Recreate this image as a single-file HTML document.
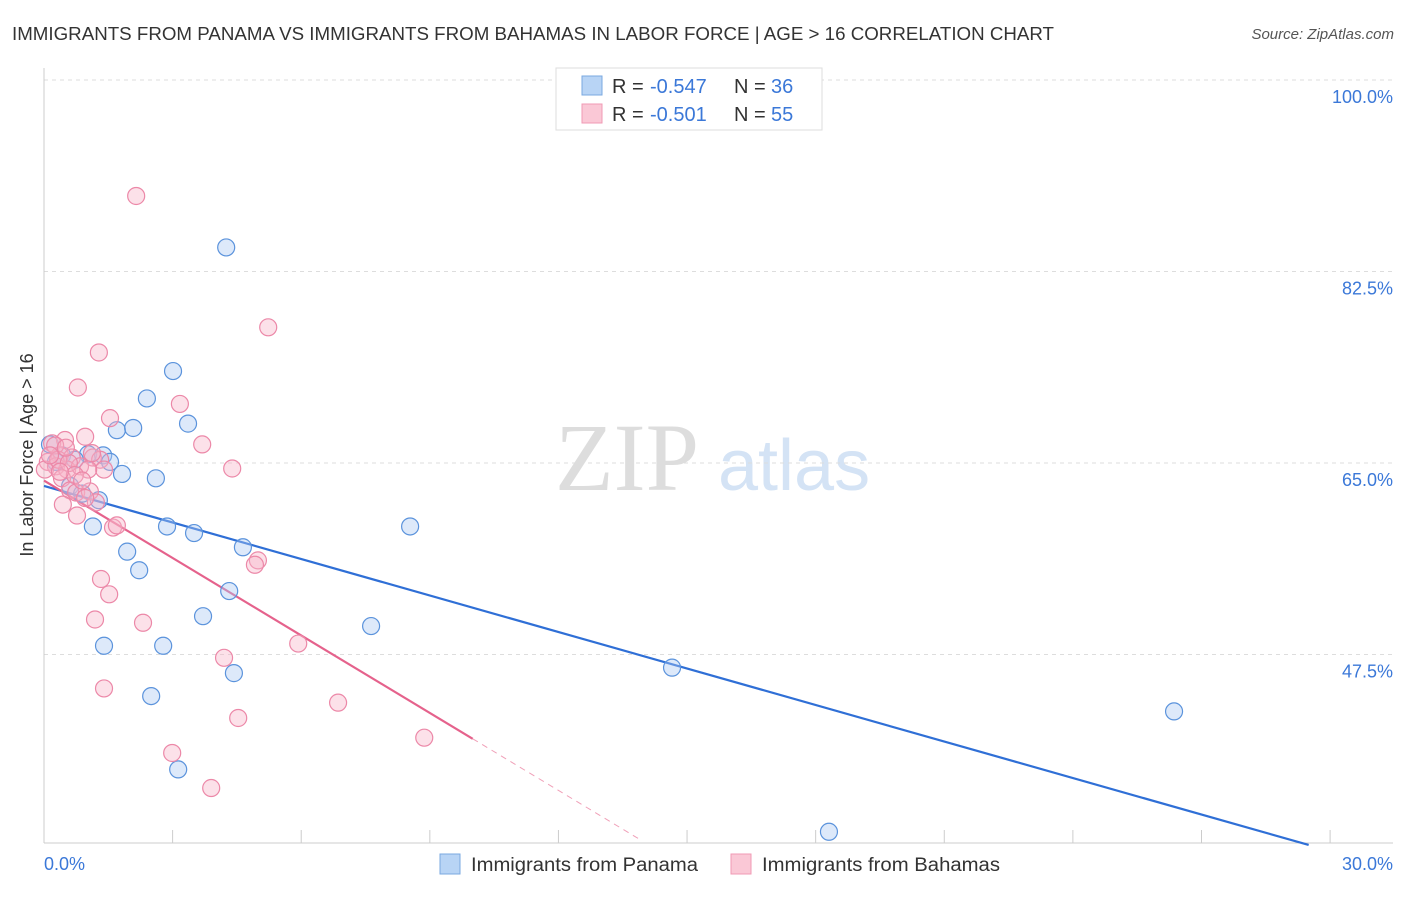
<!DOCTYPE html>
<html><head><meta charset="utf-8"><style>
body{margin:0;background:#fff;font-family:"Liberation Sans",sans-serif;}
</style></head><body>
<svg width="1406" height="892" xmlns="http://www.w3.org/2000/svg" font-family="Liberation Sans, sans-serif">
<text x="12" y="40" font-size="18" fill="#333" textLength="1042" lengthAdjust="spacingAndGlyphs">IMMIGRANTS FROM PANAMA VS IMMIGRANTS FROM BAHAMAS IN LABOR FORCE | AGE &gt; 16 CORRELATION CHART</text>
<text x="1394" y="39" font-size="15" fill="#555" font-style="italic" text-anchor="end">Source: ZipAtlas.com</text>
<g>
<text x="555" y="490" font-size="96" fill="#ddd" font-family="Liberation Serif, serif">ZIP</text>
<text x="718" y="490" font-size="72" fill="#d4e3f5">atlas</text>
</g>
<g id="grid"></g>
<g id="axes"></g>
<g id="lines"></g>
<g id="pts"></g>
<g>
<rect x="556" y="68" width="266" height="62" fill="#fff" stroke="#ddd"/>
<rect x="582" y="76" width="20" height="19" fill="#b8d4f5" stroke="#7aa8e0"/>
<rect x="582" y="104" width="20" height="19" fill="#fac8d6" stroke="#f09ab4"/>
<text x="612" y="93" font-size="20" fill="#333">R =</text>
<text x="650" y="93" font-size="20" fill="#3b78d8">-0.547</text>
<text x="734" y="93" font-size="20" fill="#333">N =</text>
<text x="771" y="93" font-size="20" fill="#3b78d8">36</text>
<text x="612" y="121" font-size="20" fill="#333">R =</text>
<text x="650" y="121" font-size="20" fill="#3b78d8">-0.501</text>
<text x="734" y="121" font-size="20" fill="#333">N =</text>
<text x="771" y="121" font-size="20" fill="#3b78d8">55</text>
</g>
<g>
<rect x="440" y="854" width="20" height="20" fill="#b8d4f5" stroke="#7aa8e0"/>
<text x="471" y="871" font-size="19" fill="#333" textLength="227" lengthAdjust="spacingAndGlyphs">Immigrants from Panama</text>
<rect x="731" y="854" width="20" height="20" fill="#fac8d6" stroke="#f09ab4"/>
<text x="762" y="871" font-size="19" fill="#333" textLength="238" lengthAdjust="spacingAndGlyphs">Immigrants from Bahamas</text>
</g>
<text transform="translate(33,455) rotate(-90)" font-size="18" fill="#333" text-anchor="middle">In Labor Force | Age &gt; 16</text>
</svg>
<script>
const yTicks=[100,82.5,65,47.5];
const yTickLabels=["100.0%","82.5%","65.0%","47.5%"];
const xTickLabels=["0.0%","30.0%"];
const panamaX=[4.25,3.01,2.40,3.36,1.70,2.08,0.14,0.42,1.03,1.38,1.54,1.82,2.61,0.61,0.89,1.28,1.14,2.87,3.50,4.64,1.94,2.22,4.32,3.71,7.63,1.40,2.78,4.43,2.50,3.13,8.54,14.65,26.36,18.31,0.28,0.72];
const panamaY=[84.7,73.4,70.9,68.6,68.0,68.2,66.7,65.7,65.8,65.7,65.1,64.0,63.6,62.9,62.2,61.6,59.2,59.2,58.6,57.3,56.9,55.2,53.3,51.0,50.1,48.3,48.3,45.8,43.7,37.0,59.2,46.3,42.3,31.3,65.1,65.3];
const bahamasX=[2.15,5.23,1.28,0.79,3.17,1.54,0.96,0.49,3.69,0.19,0.37,0.65,1.14,0.09,0.28,0.54,0.84,1.31,4.39,1.40,1.03,0.42,0.61,0.75,1.07,1.21,0.96,0.44,0.77,1.61,1.70,4.99,4.92,1.33,1.52,1.19,2.31,5.93,4.20,1.40,6.86,4.53,2.99,8.87,3.90,0.26,0.33,0.02,0.58,1.12,0.72,0.89,0.37,0.14,0.51];
const bahamasY=[89.4,77.4,75.1,71.9,70.4,69.1,67.4,67.1,66.7,66.8,65.7,65.5,65.5,65.1,64.7,64.4,64.7,65.3,64.5,64.4,64.4,63.6,62.5,62.3,62.4,61.4,61.8,61.2,60.2,59.1,59.3,56.1,55.7,54.4,53.0,50.7,50.4,48.5,47.2,44.4,43.1,41.7,38.5,39.9,35.3,66.6,65.3,64.4,65.0,65.9,63.9,63.4,64.2,65.7,66.4];
const panamaTrend=[62.9,-1.112];
const bahamasTrend=[63.4,-2.36];
const NS="http://www.w3.org/2000/svg";
const X=v=>44+v*42.87, Y=v=>80+(100-v)*10.943;
function mk(tag,a,parent){const e=document.createElementNS(NS,tag);for(const k in a)e.setAttribute(k,a[k]);document.getElementById(parent).appendChild(e);return e;}
yTicks.forEach((t,i)=>{
 const l=mk('line',{x1:44,x2:1393,y1:Y(t),y2:Y(t),stroke:'#ddd','stroke-dasharray':'4,4'},'grid');
 
 
 const tx=mk('text',{x:1393,y:Y(t)+23,'text-anchor':'end','font-size':18,fill:'#3b78d8'},'grid');
 tx.textContent=yTickLabels[i];
 
 
});
mk('line',{x1:44,x2:44,y1:68,y2:843,stroke:'#ccc'},'axes');
mk('line',{x1:44,x2:1393,y1:843,y2:843,stroke:'#ccc'},'axes');
for(let i=1;i<=10;i++){mk('line',{x1:X(i*3),x2:X(i*3),y1:830,y2:843,stroke:'#ccc'},'axes');}
[[0,'start',44],[30,'end',1393]].forEach((d,i)=>{
 const t=mk('text',{x:d[2],y:870,'text-anchor':d[1],'font-size':18,fill:'#3b78d8'},'axes');
 t.textContent=xTickLabels[i];
 
 
});
function pts(xs,ys,fill,stroke,name){xs.forEach((x,i)=>{
 const c=mk('circle',{cx:X(x),cy:Y(ys[i]),r:8.5,fill:fill,'fill-opacity':0.4,stroke:stroke,'stroke-width':1.2},'pts');
 
 
});}
pts(panamaX,panamaY,'#a9c9f2','#5b93dc','panama-point');
pts(bahamasX,bahamasY,'#f7b3c7','#ec88a8','bahamas-point');
const bl=mk('line',{x1:X(0),y1:Y(panamaTrend[0]),x2:X(29.5),y2:Y(panamaTrend[0]+panamaTrend[1]*29.5),stroke:'#2f6fd6','stroke-width':2.2},'lines');


const pl=mk('line',{x1:X(0),y1:Y(bahamasTrend[0]),x2:X(10),y2:Y(bahamasTrend[0]+bahamasTrend[1]*10),stroke:'#e5628c','stroke-width':2.2},'lines');


const pd=mk('line',{x1:X(10),y1:Y(bahamasTrend[0]+bahamasTrend[1]*10),x2:X(13.9),y2:Y(bahamasTrend[0]+bahamasTrend[1]*13.9),stroke:'#f0a0b8','stroke-width':1,'stroke-dasharray':'6,5'},'lines');


</script>
</body></html>
